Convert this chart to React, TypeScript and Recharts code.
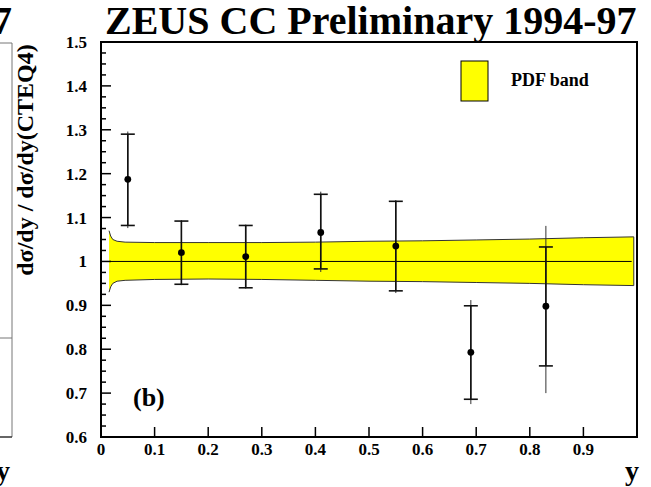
import React from 'react';
import {
  ComposedChart,
  Area,
  Scatter,
  ErrorBar,
  XAxis,
  YAxis,
  ReferenceLine,
  ReferenceArea,
} from 'recharts';

// ---- data ----
const pointX = [0.05, 0.15, 0.27, 0.41, 0.55, 0.69, 0.83];
const pointY = [1.187, 1.02, 1.011, 1.066, 1.035, 0.793, 0.898];
const statHigh = [1.29, 1.092, 1.082, 1.153, 1.137, 0.899, 1.033];
const statLow = [1.082, 0.948, 0.94, 0.983, 0.933, 0.686, 0.762];
const totHigh = [1.296, 1.094, 1.084, 1.159, 1.14, 0.912, 1.081];
const totLow = [1.076, 0.946, 0.938, 0.976, 0.928, 0.675, 0.7];

const bandX = [0.015, 0.018, 0.022, 0.03, 0.045, 0.1, 0.2, 0.3, 0.4, 0.5, 0.6, 0.7, 0.8, 0.9, 0.994];
const bandHigh = [1.07, 1.058, 1.05, 1.046, 1.044, 1.043, 1.043, 1.043, 1.044, 1.046, 1.047, 1.049, 1.051, 1.054, 1.056];
const bandLow = [0.93, 0.942, 0.95, 0.955, 0.957, 0.959, 0.96, 0.959, 0.957, 0.955, 0.954, 0.952, 0.95, 0.947, 0.945];

const xTicks = [0, 0.1, 0.2, 0.3, 0.4, 0.5, 0.6, 0.7, 0.8, 0.9];
const xTickLabels = ['0', '0.1', '0.2', '0.3', '0.4', '0.5', '0.6', '0.7', '0.8', '0.9'];
const yMajorTicks = [0.6, 0.7, 0.8, 0.9, 1.0, 1.1, 1.2, 1.3, 1.4, 1.5];
const yMajorLabels = ['0.6', '0.7', '0.8', '0.9', '1', '1.1', '1.2', '1.3', '1.4', '1.5'];
const yMinorTicks = [
  0.625, 0.65, 0.675, 0.725, 0.75, 0.775, 0.825, 0.85, 0.875, 0.925, 0.95, 0.975,
  1.025, 1.05, 1.075, 1.125, 1.15, 1.175, 1.225, 1.25, 1.275, 1.325, 1.35, 1.375,
  1.425, 1.45, 1.475,
];

const titleText = 'ZEUS CC Preliminary 1994-97';
const yAxisTitle = 'dσ/dy / dσ/dy(CTEQ4)';
const xAxisTitle = 'y';
const panelLabel = '(b)';
const legendLabel = 'PDF band';

// ---- tables built from the arrays ----
const bandData = bandX.map((x, i) => ({ x, band: [bandLow[i], bandHigh[i]] }));
const pointData = pointX.map((x, i) => ({
  x,
  y: pointY[i],
  stat: [pointY[i] - statLow[i], statHigh[i] - pointY[i]],
  tot: [pointY[i] - totLow[i], totHigh[i] - pointY[i]],
}));

const FONT = '"Liberation Serif", "DejaVu Serif", serif';
const W = 651;
const H = 487;

const allYTicks = [...yMajorTicks, ...yMinorTicks].sort((a, b) => a - b);

const isMajorY = (v: number) => yMajorTicks.some((m) => Math.abs(m - v) < 1e-6);

const YTick = (props: any) => {
  const { x, y, payload } = props;
  const v = payload.value as number;
  const major = isMajorY(v);
  const idx = yMajorTicks.findIndex((m) => Math.abs(m - v) < 1e-6);
  return (
    <g>
      <line x1={x} x2={x + (major ? 10 : 5)} y1={y} y2={y} stroke="#000" strokeWidth={1.5} />
      {major && (
        <text
          x={x - 14}
          y={y}
          dy="0.35em"
          textAnchor="end"
          fontFamily={FONT}
          fontWeight="bold"
          fontSize={17}
          fill="#000"
        >
          {yMajorLabels[idx]}
        </text>
      )}
    </g>
  );
};

const XTick = (props: any) => {
  const { x, y, payload } = props;
  const v = payload.value as number;
  const idx = xTicks.findIndex((t) => Math.abs(t - v) < 1e-6);
  return (
    <g>
      {idx > 0 && <line x1={x} x2={x} y1={y} y2={y - 10} stroke="#000" strokeWidth={1.5} />}
      <text
        x={x}
        y={y + 12}
        dy="0.35em"
        textAnchor="middle"
        fontFamily={FONT}
        fontWeight="bold"
        fontSize={17}
        fill="#000"
      >
        {xTickLabels[idx]}
      </text>
    </g>
  );
};

const Dot = (props: any) => {
  const { cx, cy } = props;
  return <circle cx={cx} cy={cy} r={3.4} fill="#000" />;
};

export default function App() {
  return (
    <div style={{ position: 'absolute', left: 0, top: 0, width: W, height: H, background: '#fff' }}>
      <ComposedChart
        width={W}
        height={H}
        data={bandData}
        margin={{ top: 42, right: 14, bottom: 0, left: 0 }}
      >
        <XAxis
          dataKey="x"
          type="number"
          domain={[0, 1]}
          ticks={xTicks}
          interval={0}
          tick={<XTick />}
          tickSize={0}
          tickMargin={0}
          tickLine={false}
          axisLine={false}
          height={50}
          allowDataOverflow
        />
        <YAxis
          type="number"
          domain={[0.6, 1.5]}
          ticks={allYTicks}
          interval={0}
          tick={<YTick />}
          tickSize={0}
          tickMargin={0}
          tickLine={false}
          axisLine={false}
          width={101}
          allowDataOverflow
        />
        <Area
          dataKey="band"
          type="linear"
          fill="#ffff00"
          fillOpacity={1}
          stroke="#333"
          strokeWidth={1}
          isAnimationActive={false}
          dot={false}
          activeDot={false}
        />
        <ReferenceLine
          segment={[
            { x: bandX[bandX.length - 1], y: bandLow[bandLow.length - 1] },
            { x: bandX[bandX.length - 1], y: bandHigh[bandHigh.length - 1] },
          ]}
          stroke="#333"
          strokeWidth={1}
        />
        <ReferenceLine
          segment={[
            { x: bandX[0], y: 1 },
            { x: 0.99, y: 1 },
          ]}
          stroke="#000"
          strokeWidth={1}
        />
        <Scatter data={pointData} dataKey="y" shape={<Dot />} isAnimationActive={false}>
          <ErrorBar dataKey="tot" direction="y" width={0} stroke="#333" strokeWidth={1} isAnimationActive={false} />
          <ErrorBar dataKey="stat" direction="y" width={7} stroke="#111" strokeWidth={1.6} isAnimationActive={false} />
        </Scatter>
        <ReferenceArea x1={0} x2={1} y1={0.6} y2={1.5} fill="none" stroke="#000" strokeWidth={2} />
      </ComposedChart>
      <svg
        width={W}
        height={H}
        style={{ position: 'absolute', left: 0, top: 0, pointerEvents: 'none' }}
      >
        {/* remnants of the neighbouring panel (a) */}
        <line x1={0} x2={12} y1={43} y2={43} stroke="#777" strokeWidth={1} />
        <line x1={12} x2={12} y1={43} y2={437} stroke="#777" strokeWidth={1} />
        <line x1={0} x2={12} y1={338} y2={338} stroke="#777" strokeWidth={1} />
        <line x1={0} x2={12} y1={437} y2={437} stroke="#333" strokeWidth={1.5} />
        <text x={12} y={34} textAnchor="end" fontFamily={FONT} fontWeight="bold" fontSize={40} fill="#000">
          {titleText}
        </text>
        <text x={10} y={480} textAnchor="end" fontFamily={FONT} fontWeight="bold" fontSize={28} fill="#000">
          {xAxisTitle}
        </text>

        {/* panel (b) annotations */}
        <text x={105} y={34} fontFamily={FONT} fontWeight="bold" fontSize={40} fill="#000">
          {titleText}
        </text>
        <text
          x={33}
          y={160}
          transform="rotate(-90 33 160)"
          textAnchor="middle"
          fontFamily={FONT}
          fontWeight="bold"
          fontSize={24}
          fill="#000"
        >
          {yAxisTitle}
        </text>
        <text x={639} y={480} textAnchor="end" fontFamily={FONT} fontWeight="bold" fontSize={28} fill="#000">
          {xAxisTitle}
        </text>
        <text x={133} y={406} fontFamily={FONT} fontWeight="bold" fontSize={26} fill="#000">
          {panelLabel}
        </text>
        <rect x={461} y={61} width={27} height={40} fill="#ffff00" stroke="#000" strokeWidth={1} />
        <text x={511} y={86} fontFamily={FONT} fontWeight="bold" fontSize={18} fill="#000">
          {legendLabel}
        </text>
      </svg>
    </div>
  );
}
